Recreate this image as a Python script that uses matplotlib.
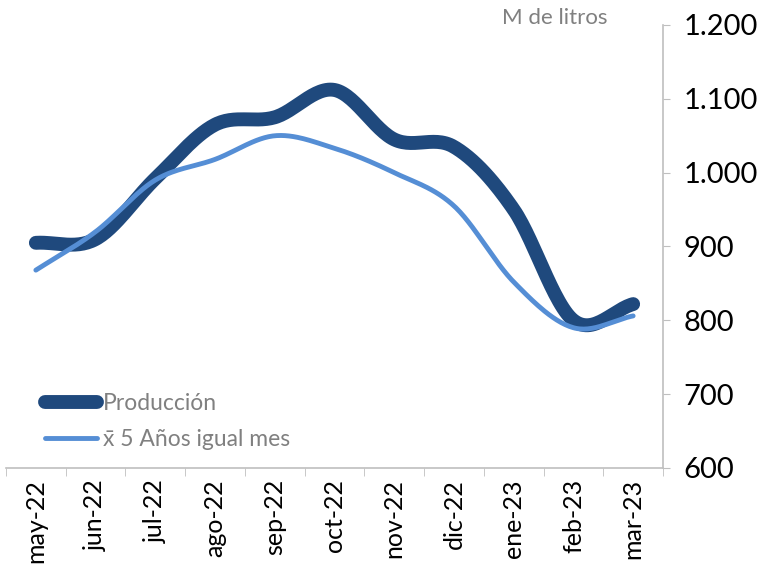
import numpy as np
import matplotlib
matplotlib.use("Agg")
import matplotlib.pyplot as plt

plt.rcParams['font.family'] = ['Lato', 'DejaVu Sans']

# Data (M de litros)
meses = ["may-22", "jun-22", "jul-22", "ago-22", "sep-22", "oct-22",
         "nov-22", "dic-22", "ene-23", "feb-23", "mar-23"]
produccion = [905, 910, 992, 1065, 1075, 1112, 1045, 1035, 950, 800, 822]
media_5a = [868, 920, 990, 1018, 1050, 1033, 1000, 955, 852, 790, 806]

dark_blue = "#1F497D"
light_blue = "#558ED5"
grey = "#808080"


def smooth(y, n=30):
    # Catmull-Rom style smoothing, similar to Excel's smoothed lines
    y = np.asarray(y, dtype=float)
    x = np.arange(len(y), dtype=float)
    px = np.concatenate([[2 * x[0] - x[1]], x, [2 * x[-1] - x[-2]]])
    py = np.concatenate([[2 * y[0] - y[1]], y, [2 * y[-1] - y[-2]]])
    xs, ys = [], []
    t = np.linspace(0, 1, n)
    for i in range(1, len(px) - 2):
        for P, out in ((py[i - 1:i + 3], ys), (px[i - 1:i + 3], xs)):
            a, b, c, d = P
            out.extend(0.5 * (2 * b + (-a + c) * t + (2 * a - 5 * b + 4 * c - d) * t ** 2
                              + (-a + 3 * b - 3 * c + d) * t ** 3))
    return np.array(xs), np.array(ys)


fig = plt.figure(figsize=(7.67, 5.77), dpi=100)
ax = fig.add_axes([6 / 767, 1 - 468 / 577, 657 / 767, 443 / 577])

x1, y1 = smooth(produccion)
x2, y2 = smooth(media_5a)
ax.plot(x1, y1, color=dark_blue, lw=10, solid_capstyle="round", label="Producción")
ax.plot(x2, y2, color=light_blue, lw=3.5, solid_capstyle="round", label="x̄ 5 Años igual mes")

ax.set_xlim(-0.5, len(meses) - 0.5)
ax.set_ylim(600, 1200)

# y axis on the right
ax.yaxis.tick_right()
ax.set_yticks(np.arange(600, 1201, 100))
ax.set_yticklabels([f"{v:,}".replace(",", ".") for v in range(600, 1201, 100)], fontsize=21)
ax.tick_params(axis="y", direction="out", length=5, color="#BFBFBF", pad=10)

ax.set_xticks(np.arange(len(meses)))
ax.set_xticklabels(meses, rotation=90, fontsize=18)
ax.set_xticks(np.arange(len(meses) + 1) - 0.5, minor=True)
ax.tick_params(axis="x", which="major", length=0, pad=8)
ax.tick_params(axis="x", which="minor", direction="out", length=6, color="#BFBFBF")

for s in ["top", "left"]:
    ax.spines[s].set_visible(False)
for s in ["bottom", "right"]:
    ax.spines[s].set_color("#BFBFBF")
    ax.spines[s].set_linewidth(1.2)

fig.text(607 / 767, 1 - 18 / 577, "M de litros", color=grey, fontsize=16,
         ha="right", va="center")

leg = ax.legend(loc="lower left", bbox_to_anchor=(0.045, 0.02), frameon=False,
                fontsize=16.5, handlelength=2.3, handletextpad=0.25, labelspacing=0.65,
                borderaxespad=0)
for t in leg.get_texts():
    t.set_color(grey)

fig.savefig("out.png", dpi=100)
